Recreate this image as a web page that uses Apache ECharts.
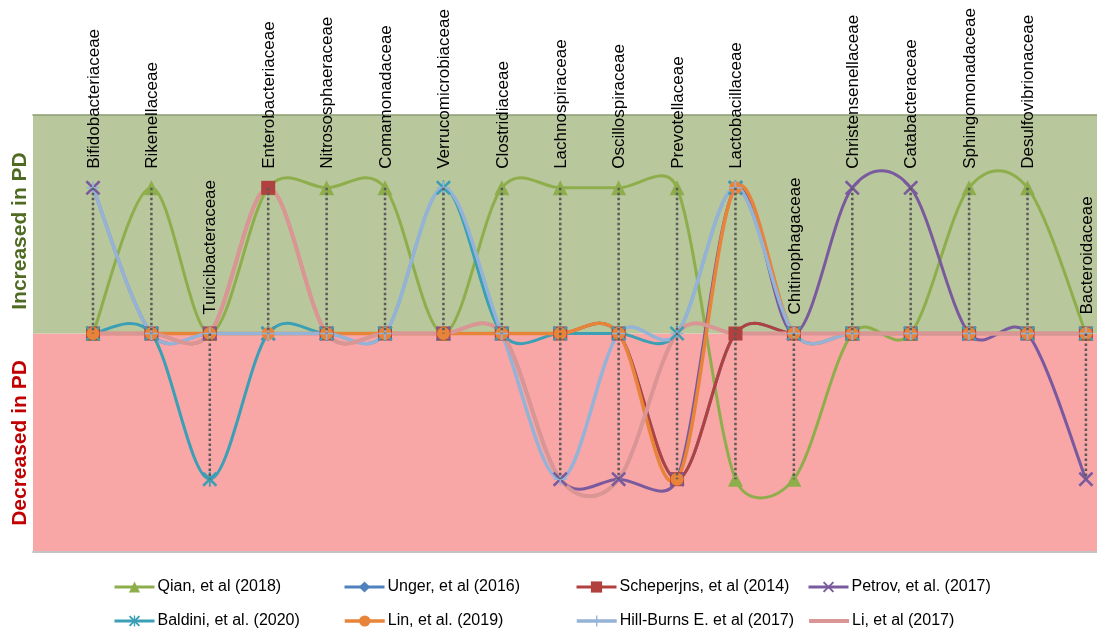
<!DOCTYPE html>
<html>
<head>
<meta charset="utf-8">
<script src="https://cdn.jsdelivr.net/npm/echarts@6/dist/echarts.min.js"></script>
<style>html,body{margin:0;padding:0;background:#fff}#c{width:1097px;height:630px}</style>
</head>
<body>
<div id="c"></div>
<script>
const categories = ["Bifidobacteriaceae","Rikenellaceae","Turicibacteraceae","Enterobacteriaceae","Nitrososphaeraceae","Comamonadaceae","Verrucomicrobiaceae","Clostridiaceae","Lachnospiraceae","Oscillospiraceae","Prevotellaceae","Lactobacillaceae","Chitinophagaceae","Christensenellaceae","Catabacteraceae","Sphingomonadaceae","Desulfovibrionaceae","Bacteroidaceae"];
const qian       = [0,1,0,1,1,1,0,1,1,1,1,-1,-1,0,0,1,1,0];
const unger      = [0,0,0,0,0,0,0,0,0,0,-1,0,0,0,0,0,0,0];
const scheperjns = [0,0,0,1,0,0,0,0,0,0,-1,0,0,0,0,0,0,0];
const petrov     = [1,0,0,0,0,0,0,0,-1,-1,-1,1,0,1,1,0,0,-1];
const baldini    = [0,0,-1,0,0,0,1,0,0,0,0,1,0,0,0,0,0,0];
const lin        = [0,0,0,0,0,0,0,0,0,0,-1,1,0,0,0,0,0,0];
const hillBurns  = [1,0,0,0,0,0,1,0,-1,0,0,1,0,0,0,0,0,0];
const li         = [0,0,0,1,0,0,0,0,-1,-1,0,0,0,0,0,0,0,0];
const seriesNames = ["Qian, et al (2018)","Unger, et al (2016)","Scheperjns, et al (2014)","Petrov, et al. (2017)","Baldini, et al. (2020)","Lin, et al. (2019)","Hill-Burns E. et al (2017)","Li, et al (2017)"];
const yTitles = ["Increased in PD","Decreased in PD"];

const allSeries = [qian, unger, scheperjns, petrov, baldini, lin, hillBurns, li];
const X_PATH = 'path://M0,1.2L1.2,0L5,3.8L8.8,0L10,1.2L6.2,5L10,8.8L8.8,10L5,6.2L1.2,10L0,8.8L3.8,5Z';
const PLUS_PATH = 'path://M4.4,0H5.6V4.4H10V5.6H5.6V10H4.4V5.6H0V4.4H4.4Z';
const AST_PATH = 'path://M0,1.2L1.2,0L5,3.8L8.8,0L10,1.2L6.2,5L10,8.8L8.8,10L5,6.2L1.2,10L0,8.8L3.8,5ZM4.4,0H5.6V10H4.4Z';
const styles = [
  {color:'#8EAE4C', symbol:'triangle', size:15, width:3},
  {color:'#4F81BD', symbol:'diamond', size:11, width:3},
  {color:'#B0413E', symbol:'rect', size:14, width:3},
  {color:'#7A5A9E', symbol:X_PATH, size:15, width:3},
  {color:'#3B9FB5', symbol:AST_PATH, size:15, width:3},
  {color:'#E8843A', symbol:'circle', size:13, width:3.5},
  {color:'#95B3D7', symbol:PLUS_PATH, size:13, width:3.5},
  {color:'#D99694', symbol:'none', size:0, width:4}
];

const xMin = -1.027, xMax = 17.19;

// Smoothed curve (spreadsheet-style Bezier) through the data points, positioned via api.coord
function curveSeries(vals, k) {
  const n = vals.length;
  const arm = (a, b, seg) => {
    let ax = (b[0] - a[0]) / 6, ay = (b[1] - a[1]) / 6;
    const len = Math.hypot(ax, ay), cap = seg / 2;
    if (len > cap && len > 0) { ax *= cap / len; ay *= cap / len; }
    return [ax, ay];
  };
  return {
    type: 'custom',
    data: vals.map((v, i) => [i, v]),
    z: 2,
    silent: true,
    renderItem: function (params, api) {
      const i = params.dataIndex;
      if (i >= n - 1) return null;
      const p = j => { const c = Math.max(0, Math.min(n - 1, j)); return api.coord([c, vals[c]]); };
      const p0 = p(i - 1), p1 = p(i), p2 = p(i + 1), p3 = p(i + 2);
      const seg = Math.hypot(p2[0] - p1[0], p2[1] - p1[1]);
      const a1 = arm(p0, p2, seg), a2 = arm(p1, p3, seg);
      return {
        type: 'bezierCurve',
        shape: {
          x1: p1[0], y1: p1[1], x2: p2[0], y2: p2[1],
          cpx1: p1[0] + a1[0], cpy1: p1[1] + a1[1],
          cpx2: p2[0] - a2[0], cpy2: p2[1] - a2[1]
        },
        style: {stroke: styles[k].color, lineWidth: styles[k].width, fill: null, lineCap: 'round'}
      };
    }
  };
}

const markerSeries = (vals, k) => ({
  name: seriesNames[k],
  type: 'line',
  data: vals.map((v, i) => [i, v]),
  symbol: styles[k].symbol,
  symbolSize: styles[k].size,
  showAllSymbol: true,
  itemStyle: {color: styles[k].color},
  lineStyle: {color: styles[k].color, width: styles[k].width, opacity: 0},
  z: 2
});

const studySeries = [];
allSeries.forEach((vals, k) => { studySeries.push(curveSeries(vals, k)); studySeries.push(markerSeries(vals, k)); });

const hiLo = categories.map((c, i) => {
  const vs = allSeries.map(s => s[i]);
  return [i, Math.min(...vs), Math.max(...vs)];
});

const hiLoSeries = {
  type: 'custom',
  data: hiLo,
  z: 5,
  silent: true,
  renderItem: function (params, api) {
    const i = api.value(0);
    const top = api.coord([i, api.value(2)]);
    const bot = api.coord([i, api.value(1)]);
    return {
      type: 'group',
      children: [
        {type:'line', shape:{x1:top[0], y1:top[1], x2:bot[0], y2:bot[1]},
         style:{stroke:'#5a5a5a', lineWidth:2.5, lineDash:[2.5,2.5]}},
        {type:'text', x: top[0] + 1, y: top[1] - 19, rotation: Math.PI/2,
         style:{text: categories[i], align:'left', verticalAlign:'middle',
                font:'17px "Liberation Sans", Arial, sans-serif', fill:'#000'}}
      ]
    };
  }
};

const legendLeft = [113, 343, 575, 807];
const legendTop = [579, 613];
const legends = seriesNames.map((name, k) => ({
  left: legendLeft[k % 4],
  top: legendTop[Math.floor(k / 4)],
  padding: 0,
  itemWidth: 40,
  itemHeight: 14,
  selectedMode: false,
  data: [{
    name: name,
    lineStyle: {opacity: 1, width: styles[k].width, color: styles[k].color},
    itemStyle: styles[k].symbol === 'none' ? {opacity: 0} : {}
  }],
  textStyle: {fontFamily: '"Liberation Sans", Arial, sans-serif', fontSize: 16, color: '#000', padding:[0,0,0,-2]}
}));

const chart = echarts.init(document.getElementById('c'), null, {renderer:'canvas'});
chart.setOption({
  animation: false,
  backgroundColor: '#fff',
  grid: {left: 33, right: 0, top: 115, bottom: 78},
  legend: legends,
  xAxis: [
    {type:'value', min:xMin, max:xMax, position:'bottom',
     axisLine:{show:true, onZero:false, lineStyle:{color:'#c4c4c4', width:2}},
     axisTick:{show:false}, axisLabel:{show:false}, splitLine:{show:false}},
    {type:'value', min:xMin, max:xMax, position:'top',
     axisLine:{show:true, onZero:false, lineStyle:{color:'#8c9c72', width:1.5}},
     axisTick:{show:false}, axisLabel:{show:false}, splitLine:{show:false}}
  ],
  yAxis: {
    type:'value', min:-1.5, max:1.5, interval:1.5,
    axisLine:{show:false}, axisTick:{show:false}, axisLabel:{show:false},
    splitLine:{show:false},
    splitArea:{show:true, areaStyle:{color:['#F9A6A7','#B9C79C']}}
  },
  graphic: [
    {type:'text', x: 20, y: 231, rotation: Math.PI/2, silent:true,
     style:{text: yTitles[0], align:'center', verticalAlign:'middle',
            font:'bold 21px "Liberation Sans", Arial, sans-serif', fill:'#4F6B22'}},
    {type:'text', x: 20, y: 443, rotation: Math.PI/2, silent:true,
     style:{text: yTitles[1], align:'center', verticalAlign:'middle',
            font:'bold 21px "Liberation Sans", Arial, sans-serif', fill:'#C00000'}}
  ],
  series: studySeries.concat([hiLoSeries])
});
</script>
</body>
</html>
